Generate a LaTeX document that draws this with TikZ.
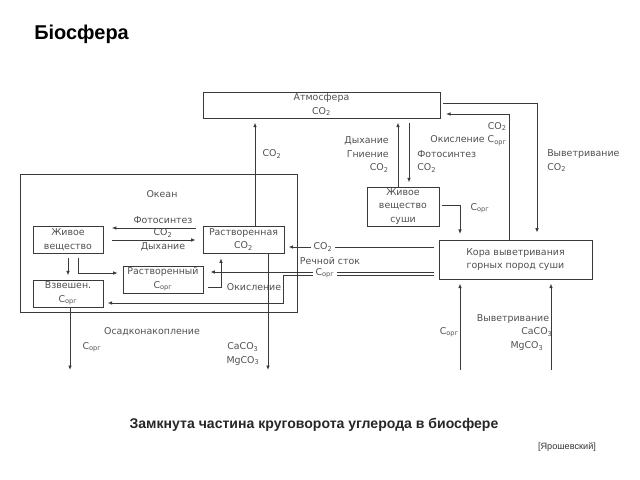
\documentclass[tikz,border=0pt]{standalone}
\usepackage{fontspec}
\setmainfont{Liberation Sans}
\newfontfamily\diagfont{DejaVu Sans}
\usepackage{xcolor}
\usepackage{tikz}
\usetikzlibrary{arrows.meta, positioning, calc}
\definecolor{linegray}{HTML}{3A3A3A}
\definecolor{textgray}{HTML}{505050}
\newcommand\Corg{C\textsubscript{орг}}
\newcommand\COtwo{CO\textsubscript{2}}

\begin{document}
\begin{tikzpicture}[
        x=0.025cm, y=-0.025cm,
        every node/.style={font=\diagfont\fontsize{6.7}{9.6}\selectfont, text=textgray, inner sep=0pt},
        box/.style={rectangle, draw=linegray, line width=0.6pt, align=center},
        lbl/.style={align=center},
        arrow/.style={-{Latex[length=3.2pt, width=2.6pt]}, line width=0.6pt, draw=linegray, shorten >=3pt},
    ]
        \useasboundingbox (0,0) rectangle (640,480);

        % Title and caption
        \node[font=\fontsize{14.2}{17}\selectfont\bfseries, text=black, anchor=base west] (title) at (34,39) {Біосфера};
        \node[font=\fontsize{10}{12}\selectfont\bfseries, text=black!85, anchor=base] (caption) at (314,428) {Замкнута частина круговорота углерода в биосфере};
        \node[font=\fontsize{6.5}{8}\selectfont, text=black!80] (source) at (567,447) {[Ярошевский]};

        % Boxes
        \node[box, minimum width=59.25mm, minimum height=6.5mm] (atm) at (321.5,105) {Атмосфера\\\COtwo};
        \node[box, minimum width=69.25mm, minimum height=34.5mm] (ocean) at (158.5,243) {};
        \node[lbl] (oceanlbl) at (162,194) {Океан};
        \node[box, minimum width=17.5mm, minimum height=6.75mm] (live) at (68,239.5) {Живое\\вещество};
        \node[box, minimum width=20.25mm, minimum height=6.75mm] (dco2) at (243.5,239.5) {Растворенная\\\COtwo};
        \node[box, minimum width=20mm, minimum height=6.75mm] (dorg) at (163,279.5) {Растворенный\\\Corg};
        \node[box, minimum width=17.5mm, minimum height=6.75mm] (susp) at (68,293.5) {Взвешен.\\\Corg};
        \node[box, minimum width=18mm, minimum height=9.75mm] (land) at (403,206.5) {Живое\\вещество\\суши};
        \node[box, minimum width=38.25mm, minimum height=9.75mm] (crust) at (515.5,259.5) {Кора выветривания\\горных пород суши};

        % Bend points and free ends
        \coordinate (c1) at (255,0);
        \coordinate (c2) at (398,0);
        \coordinate (c3) at (409,0);
        \coordinate (c4) at (537,103);
        \coordinate (c5) at (509,114);
        \coordinate (c6) at (460,205);
        \coordinate (c7) at (0,247);
        \coordinate (c8) at (283,272);
        \coordinate (c9) at (283,275);
        \coordinate (c10) at (283,303);
        \coordinate (c11) at (0,228);
        \coordinate (c12) at (0,240);
        \coordinate (c13) at (78,273);
        \coordinate (c14) at (221,287);
        \coordinate (sedorg) at (70,370);
        \coordinate (sedcarb) at (268,370);
        \coordinate (inorg) at (460,370);
        \coordinate (incarb) at (551,370);

        % Atmosphere exchange
        \draw[arrow] (dco2.north -| c1) -- (atm.south -| c1);
        \draw[arrow] (land.north -| c2) -- (atm.south -| c2);
        \draw[arrow, shorten <=3pt] (atm.south -| c3) -- (land.north -| c3);
        \draw[arrow, shorten <=2pt, shorten >=5pt] (atm.east |- c4) -- (c4) -- (crust.north -| c4);
        \draw[arrow, shorten >=4pt] (crust.north -| c5) -- (c5) -- (atm.east |- c5);
        \draw[arrow, shorten <=2pt, shorten >=4pt] (land.east |- c6) -- (c6) -- (crust.north -| c6);

        % River runoff
        \draw[arrow, shorten <=3pt] (crust.west |- c7) -- node[pos=0.75, fill=white, inner xsep=2pt, inner ysep=1pt] (runco2) {\COtwo} (dco2.east |- c7);
        \draw[arrow, shorten <=3pt, shorten >=5pt] (crust.west |- c8) -- (dorg.east |- c8);
        \draw[arrow, shorten <=3pt] (crust.west |- c9) -- (c9) -- (c10) -- (susp.east |- c10);
        \node[fill=white, inner xsep=2pt, inner ysep=1pt] (runorg) at (325,273) {\Corg};

        % Ocean
        \draw[arrow, shorten <=5pt, shorten >=6pt] (dco2.west |- c11) -- (live.east |- c11);
        \draw[arrow, shorten <=6pt, shorten >=5pt] (live.east |- c12) -- (dco2.west |- c12);
        \draw[arrow, shorten <=3.5pt] (live.south) -- (susp.north);
        \draw[arrow, shorten <=3.5pt, shorten >=3.5pt] (live.south -| c13) -- (c13) -- (dorg.west |- c13);
        \draw[arrow, shorten <=3.5pt, shorten >=3.5pt] (dorg.east |- c14) -- (c14) -- (dco2.south -| c14);

        % Sediments and rocks
        \draw[arrow, shorten >=0pt] (susp.south -| sedorg) -- (sedorg);
        \draw[arrow, shorten >=0pt] (dco2.south -| sedcarb) -- (sedcarb);
        \draw[arrow] (inorg) -- (crust.south -| inorg);
        \draw[arrow] (incarb) -- (crust.south -| incarb);

        % Labels
        \node[lbl] (l1) at (272,154) {\COtwo};
        \node[align=right, anchor=east] (l2) at (389,154.5) {Дыхание\\Гниение\\\COtwo};
        \node[align=left, anchor=west] (l3) at (417,161.5) {Фотосинтез\\\COtwo};
        \node[align=right, anchor=east] (l4) at (507,134) {\COtwo\\Окисление \Corg};
        \node[align=left, anchor=west] (l5) at (547,161) {Выветривание\\\COtwo};
        \node[lbl] (l6) at (163,220) {Фотосинтез};
        \node[lbl] (l7) at (163,233) {\COtwo};
        \node[lbl] (l8) at (163,247) {Дыхание};
        \node[lbl] (l9) at (254,287) {Окисление};
        \node[lbl] (l10) at (330,261) {Речной сток};
        \node[lbl] (l11) at (480,208) {\Corg};
        \node[lbl] (l12) at (152,332) {Осадконакопление};
        \node[lbl] (l13) at (92,347) {\Corg};
        \node[lbl] (l14) at (243,354) {CaCO\textsubscript{3}\\MgCO\textsubscript{3}};
        \node[align=right, anchor=east] (l15) at (459,332) {\Corg};
        \node[lbl] (l16) at (513,319) {Выветривание};
        \node[lbl] (l17) at (537,332) {CaCO\textsubscript{3}};
        \node[lbl] (l18) at (527,346) {MgCO\textsubscript{3}};
    \end{tikzpicture}
\end{document}
